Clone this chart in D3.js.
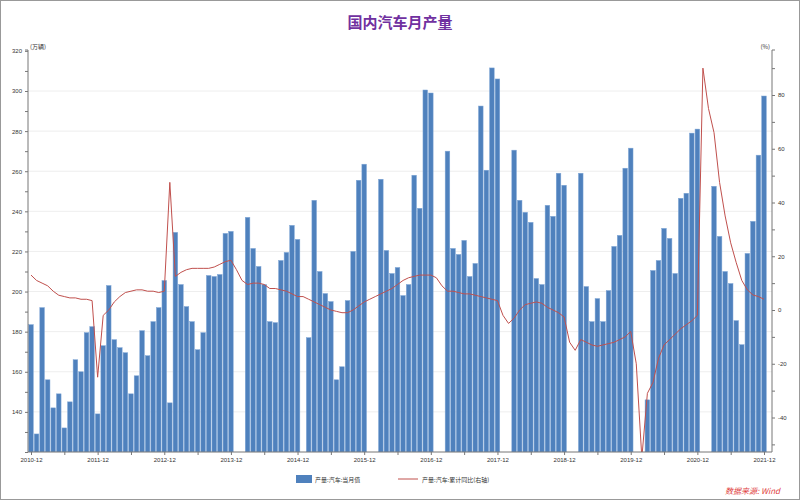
<!DOCTYPE html>
<html><head><meta charset="utf-8">
<script src="https://cdn.jsdelivr.net/npm/d3@7"></script>
<style>body{margin:0;background:#fff;font-family:"Noto Sans CJK SC","DejaVu Sans",sans-serif}</style>
</head><body><svg id="c" width="800" height="500"></svg>
<script>
const years = [2011,2012,2013,2014,2015,2016,2017,2018,2019,2020,2021];
const months = ["2010-12"];
years.forEach(y=>{for(let m=1;m<=12;m++) months.push(y+"-"+String(m).padStart(2,"0"));});
const tickLabels = ["2010-12","2011-12","2012-12","2013-12","2014-12","2015-12","2016-12","2017-12","2018-12","2019-12","2020-12","2021-12"];
const production = [
 183.5,
 129,192,156,142,149,132,145,166,160,179.5,182.5,139,
 173,203,176,172,169.5,149,158,180.5,168,185,192,205.5,
 144.5,229.5,203.5,192.5,185,171,179.5,208,207.5,208.5,229,230,
 null,null,237,221.5,212.5,203.5,185,184.5,215.5,219.5,233,226,
 null,177,245.5,210,199,195,156,162.5,195.5,220,255.5,263.5,
 null,null,256,220.5,209,212,198,203.5,258,241.5,300.5,299,
 null,null,270,221.5,218.5,225.5,207.5,214,292.5,260.5,311.5,306,
 null,null,270.5,245.5,239.5,234.5,206.5,203.5,243,237.5,259,253,
 null,null,259,202.5,185,196.5,185,200.5,222.5,228,261.5,271.5,
 null,null,146,210.5,215.5,231.5,226.5,209,246.5,249,279,281,
 null,null,252.5,227.5,210,204,185.5,173.5,219,235,268,297.5
];
const yoy = [
 13,
 11,10,9,7,5.5,5,4.5,4.5,4,4,3.5,-25,
 -2,0,3,5,6.5,7,7.5,7.5,7,7,6.5,7,
 47.5,12.5,14,15,15.5,15.5,15.5,15.5,16,17,18,18.5,
 15,11,9.5,10,10,9.5,8,8,7.5,7,6,5,
 5,4,3,2,1,0,-0.5,-1,-1,0,1.5,3,
 4,5,6,7,8,9.5,11,12,12.5,13,13,13,
 12,9,7,7,6.5,6,6,5.5,5,4.5,4,3.5,
 -2,-5,-3,0,2,2.5,3,2.5,1,0,-1,-2.6,
 -12,-15,-11,-12,-13,-13.5,-13,-12.5,-12,-11,-10,-8,
 -20,-55,-31,-27,-18,-13,-11,-9,-7,-5.5,-4,-2,
 90,75,66,47.5,35,25,17.6,11,7.5,5.6,5,4
];
const leftTicks=[140,160,180,200,220,240,260,280,300];
const rightTicks=[-40,-20,0,20,40,60,80];

const svg=d3.select("#c");
svg.append("rect").attr("x",0.5).attr("y",0.5).attr("width",799).attr("height",499).attr("fill","#fff").attr("stroke","#999");
const L=28,R=772,T=50,B=452;
const x=d3.scaleLinear().domain([0,132]).range([31,764]);
const yL=d3.scaleLinear().domain([120,300]).range([B,91]);
const yR=d3.scaleLinear().domain([0,80]).range([310,95]);

svg.append("g").selectAll("line").data(leftTicks).join("line")
 .attr("x1",L).attr("x2",R).attr("y1",d=>yL(d)).attr("y2",d=>yL(d)).attr("stroke","#eee");

svg.append("defs").append("clipPath").attr("id","clip").append("rect").attr("x",L).attr("y",T).attr("width",R-L).attr("height",B-T);

const bw=4.6;
svg.append("g").attr("clip-path","url(#clip)").selectAll("rect").data(production.map((v,i)=>({v,i})).filter(d=>d.v!=null)).join("rect")
 .attr("x",d=>x(d.i)-bw/2).attr("width",bw).attr("y",d=>yL(d.v)).attr("height",d=>B-yL(d.v))
 .attr("fill","#4f81bd").attr("stroke","#7fa6d6").attr("stroke-width",0.5);

svg.append("path").attr("clip-path","url(#clip)").datum(yoy)
 .attr("d",d3.line().x((d,i)=>x(i)).y(d=>yR(d)))
 .attr("fill","none").attr("stroke","#c0504d").attr("stroke-width",1);

const fs="6px";
const gl=svg.append("g").attr("transform",`translate(${L},0)`)
 .call(d3.axisLeft(yL).tickValues(d3.range(120,321,10)).tickSize(3).tickFormat(d=>d%20===0&&d>120?d:""));
const gr=svg.append("g").attr("transform",`translate(${R},0)`)
 .call(d3.axisRight(yR).tickValues(d3.range(-50,91,10)).tickSize(3).tickFormat(d=>d%20===0&&d>-50&&d<90?d:""));
const tickIdx=tickLabels.map(t=>months.indexOf(t));
const gx=svg.append("g").attr("transform",`translate(0,${B})`)
 .call(d3.axisBottom(x).tickValues(d3.range(0,133,6)).tickSize(3).tickFormat(i=>{const k=tickIdx.indexOf(i);return k>=0?tickLabels[k]:"";}));
[gl,gr,gx].forEach(g=>{g.selectAll("text").attr("font-size",fs).attr("fill","#333");g.selectAll("line,path").attr("stroke","#777");});
gl.select(".domain").attr("d",`M-3,${T}H0V${B}`);
gr.select(".domain").attr("d",`M3,${T}H0V${B}`);
gx.select(".domain").attr("d",`M${L},0H${R}`);

svg.append("text").attr("x",L+2).attr("y",T-1).attr("font-size","6px").attr("fill","#333").text("(万辆)");
svg.append("text").attr("x",R-2).attr("y",T-1).attr("font-size","6px").attr("text-anchor","end").attr("fill","#333").text("(%)");
svg.append("text").attr("x",400).attr("y",28).attr("text-anchor","middle").attr("font-size","15px").attr("font-weight","bold").attr("fill","#7030a0").text("国内汽车月产量");

svg.append("rect").attr("x",296).attr("y",475).attr("width",16).attr("height",8).attr("fill","#4f81bd");
svg.append("text").attr("x",315).attr("y",482).attr("font-size","6px").attr("fill","#333").text("产量:汽车:当月值");
svg.append("line").attr("x1",398).attr("x2",418).attr("y1",479).attr("y2",479).attr("stroke","#c0504d");
svg.append("text").attr("x",422).attr("y",482).attr("font-size","6px").attr("fill","#333").text("产量:汽车:累计同比(右轴)");
svg.append("text").attr("x",780).attr("y",494).attr("text-anchor","end").attr("font-size","8px").attr("font-style","italic").attr("fill","#e04040").text("数据来源: Wind");
</script></body></html>
